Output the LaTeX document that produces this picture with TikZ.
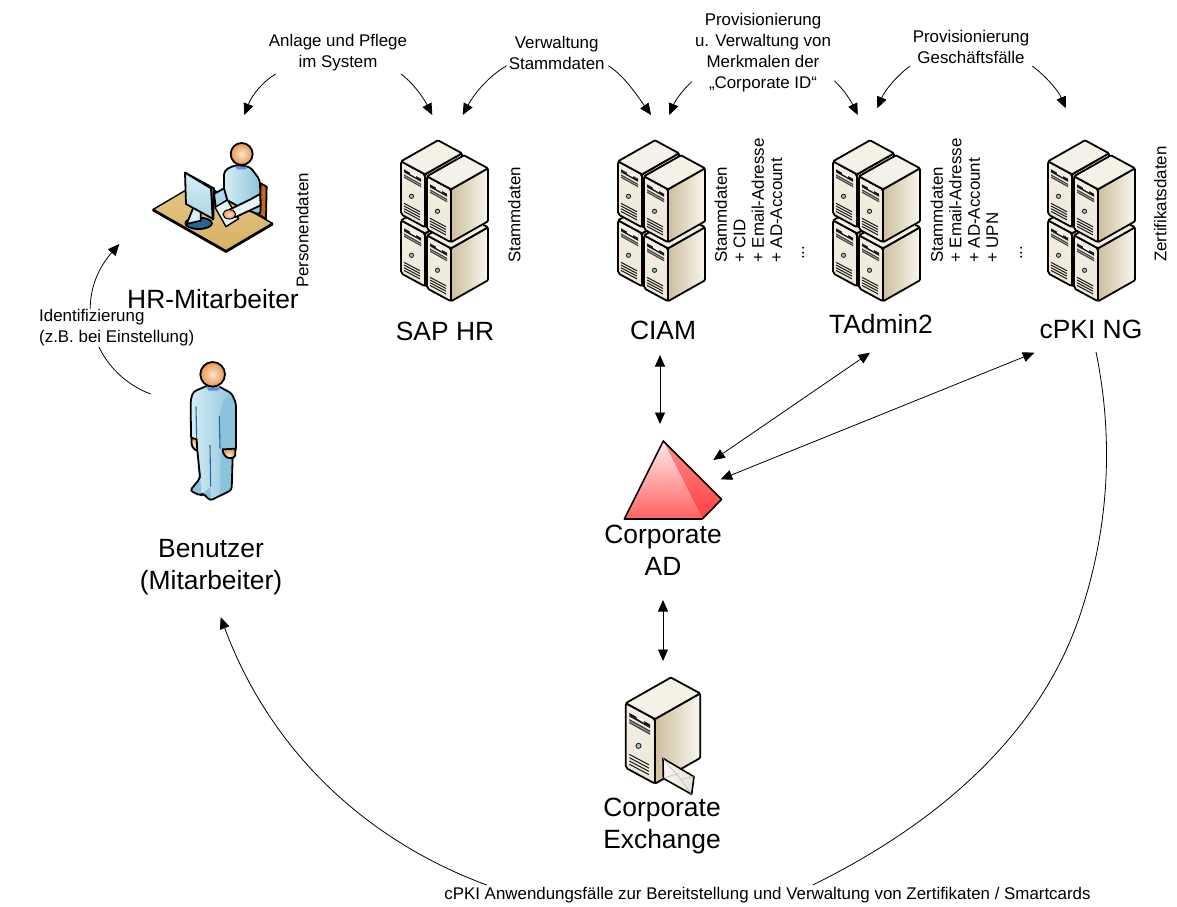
\documentclass[tikz,border=0pt]{standalone}
\usepackage{fontspec}
\setmainfont{Liberation Sans}
\usetikzlibrary{arrows.meta}
\definecolor{srvleft}{HTML}{F3EFE2}
\definecolor{srvtop}{HTML}{F4F1E7}
\definecolor{srvdark}{HTML}{CDBF9E}
\definecolor{srvlight}{HTML}{F8F6EE}
\definecolor{bluel}{HTML}{D6EEF5}
\definecolor{blued}{HTML}{8CC3DC}
\definecolor{bluex}{HTML}{2A6496}
\definecolor{skinl}{HTML}{FAE6D2}
\definecolor{skind}{HTML}{E8964C}
\definecolor{deskl}{HTML}{E4C988}
\definecolor{deskd}{HTML}{D8B062}
\definecolor{deske}{HTML}{C8641E}
\tikzset{
  smalltxt/.style={font=\fontsize{16.9}{21}\selectfont,align=center,inner sep=0pt},
  rottxt/.style={font=\fontsize{16.9}{18.4}\selectfont,align=left,rotate=90,inner sep=0pt,anchor=north west},
  bigtxt/.style={font=\fontsize{26.4}{32.5}\selectfont,align=center,inner sep=0pt},
  conn/.style={draw=black,line width=0.8pt},
  oneway/.style={conn,-{Triangle[length=11.5pt,width=10pt]}},
  twoway/.style={conn,{Triangle[length=11.5pt,width=10pt]}-{Triangle[length=11.5pt,width=10pt]}},
  outl/.style={draw=black,line width=1.8pt,line join=round},
}
% one server unit, (0,0) = front vertex of its top face
\newcommand{\srvunit}[3]{%
\begin{scope}[shift={(#1,#2)},scale=#3]
  \path[outl,left color=srvdark,right color=srvlight,rounded corners=1pt] (0,0) -- (37,-21) -- (37,32) -- (0,53) -- cycle;
  \path[outl,top color=srvleft,bottom color=srvleft!85!srvdark,rounded corners=2pt] (0,0) -- (0,53) -- (-24,40) -- (-24,-13) -- cycle;
  \path[outl,fill=srvtop,rounded corners=1pt] (0,0) -- (-24,-13) -- (13,-34) -- (37,-21) -- cycle;
  \fill[black!90] (-21,-5) -- (-4,4.5) -- (-4,7.5) -- (-21,-2) -- cycle;
  \fill[white] (-15,-2.5) -- (-9,1) -- (-9,3) -- (-15,-0.5) -- cycle;
  \fill[black!75] (-21,0) -- (-4,9.5) -- (-4,13) -- (-21,3.5) -- cycle;
  \fill[srvleft!70!black] (-21,1.4) -- (-4,10.9) -- (-4,11.7) -- (-21,2.2) -- cycle;
  \path[draw=black!85,line width=0.9pt,fill=teal!40] (-13.5,22) circle (2.1);
  \foreach \d in {0,2.7,5.4,8.1}
    \draw[black!90,line width=1pt] (-21,29+\d) -- (-5,37.5+\d);
\end{scope}}
\newcommand{\srvstack}[2]{%
  \srvunit{#1-26}{#2+44}{1}
  \srvunit{#1-26}{#2-15}{1}
  \srvunit{#1}{#2+59}{1}
  \srvunit{#1}{#2}{1}}
\begin{document}
\begin{tikzpicture}[x=1pt,y=-1pt]
\useasboundingbox (0,0) rectangle (1177,906);

% ---------- connector end points
\coordinate (a1s) at (275.7,74);  \coordinate (a1e) at (244.3,115);
\coordinate (a2s) at (401,74);    \coordinate (a2e) at (432.3,115);
\coordinate (a3s) at (506.7,65.7);\coordinate (a3e) at (462.7,115);
\coordinate (a4s) at (608.3,65.7);\coordinate (a4e) at (651,115);
\coordinate (a5s) at (691.7,81.7);\coordinate (a5e) at (669.3,115);
\coordinate (a6s) at (834.3,80.7);\coordinate (a6e) at (857.7,115);
\coordinate (a7s) at (910,66);    \coordinate (a7e) at (877.3,108.3);
\coordinate (a8s) at (1032.3,66); \coordinate (a8e) at (1065.7,108.3);
\coordinate (ciamS) at (660,355); \coordinate (adN) at (660,424);
\coordinate (taS) at (870,352.7); \coordinate (adNE) at (713.3,460);
\coordinate (pkiS) at (1034.3,352.7); \coordinate (adE) at (720.7,479.3);
\coordinate (adS) at (663,600);   \coordinate (exN) at (663,661);
\coordinate (benN) at (150.7,394);\coordinate (hrS) at (119.3,244);
\coordinate (pkiR) at (1096,352); \coordinate (mid1) at (1080,615); \coordinate (lblR) at (812.7,885);
\coordinate (lblL) at (486.7,885);\coordinate (benS) at (220.7,617.3);

% ---------- connectors
\draw[oneway] (a1s) .. controls (262.6,81.7) and (252,95) .. (a1e);
\draw[oneway] (a2s) .. controls (411.5,81.7) and (421.9,95) .. (a2e);
\draw[oneway] (a3s) .. controls (490.4,75) and (475.5,91.5) .. (a3e);
\draw[oneway] (a4s) .. controls (623,75) and (634.5,91.5) .. (a4e);
\draw[oneway] (a5s) .. controls (682.6,90) and (675,101) .. (a5e);
\draw[oneway] (a6s) .. controls (843.4,89) and (851,101) .. (a6e);
\draw[oneway] (a7s) .. controls (896.7,76) and (885,90) .. (a7e);
\draw[oneway] (a8s) .. controls (1045.4,76) and (1058,90) .. (a8e);
\draw[twoway] (ciamS) -- (adN);
\draw[twoway] (taS) -- (adNE);
\draw[twoway] (pkiS) -- (adE);
\draw[twoway] (adS) -- (exN);
\draw[oneway] (benN) .. controls (92,372) and (70,300) .. (hrS);
\draw[conn] (pkiR) .. controls (1112,430) and (1112,520) .. (mid1) .. controls (1050,705) and (975,805) .. (lblR);
\draw[oneway] (lblL) .. controls (365,840) and (270,750) .. (benS);

% ---------- servers
\srvstack{451}{189.3}
\srvstack{668}{189.3}
\srvstack{883}{189.3}
\srvstack{1098}{189.3}
\srvunit{655}{719}{1.22}
% envelope
\begin{scope}[shift={(610,680)},scale=0.3333]
  \path[draw=black,line width=1.6pt,line join=round,left color=srvlight,right color=srvdark!45!white] (159,235) -- (252,290) -- (245,343) -- (160,295) -- cycle;
  \draw[black!30,line width=0.5pt] (159,235) -- (212,298) -- (252,290) (160,295) -- (205,280) (245,343) -- (212,298);
\end{scope}

% ---------- pyramid
\begin{scope}[shift={(600,430)},scale=0.3333]
  \path[top color=red!45!white,bottom color=red!75!white] (190,33) -- (365,208) -- (307,267) -- cycle;
  \path[top color=red!8!white,bottom color=red!62!white] (190,33) -- (307,267) -- (73,267) -- cycle;
  \path[draw=black,line width=1.6pt,line join=round] (190,33) -- (365,208) -- (307,267) -- (73,267) -- cycle;
\end{scope}

% ---------- HR person at desk
\begin{scope}[shift={(140,120)},scale=0.3333]
  \path[outl,fill=deske] (362,190) -- (380,200) -- (378,297) -- (358,285) -- cycle;
  \path[outl,fill=deske] (40,268) -- (258,392) -- (397,310) -- (397,314) -- (258,396) -- (40,272) -- cycle;
  \path[top color=deskl,bottom color=deskd,draw=black,line width=1.4pt,line join=round] (40,268) -- (179,186) -- (397,310) -- (258,392) -- cycle;
  % body
  \path[outl,left color=bluel,right color=blued,rounded corners=4pt] (252,152) -- (285,135) -- (330,140) -- (360,180) -- (362,285) -- (300,262) -- (252,235) -- cycle;
  % far arm
  \path[outl,fill=blued!70!white] (222,222) -- (252,205) -- (262,240) -- (228,265) -- cycle;
  % keyboard
  \path[draw=black,line width=1.4pt,line join=round,fill=bluel!60!white] (225,262) -- (262,240) -- (296,296) -- (258,320) -- cycle;
  % near arm
  \path[outl,fill=bluel!60!white] (270,268) -- (332,238) -- (360,222) -- (362,256) -- (285,292) -- cycle;
  \path[draw=black,line width=1pt,shade,inner color=skinl,outer color=skind] (268,283) ellipse (19 and 14);
  \path[fill=blued!70!blue] (286,140) -- (322,140) -- (318,148) -- (292,148) -- cycle;
  \path[outl,shade,inner color=skinl,outer color=skind] (305,102) circle (33);
  % monitor
  \path[outl,fill=bluex] (176,310) ellipse (40 and 17);
  \path[outl,fill=bluel] (165,250) -- (183,244) -- (182,302) -- (140,312) -- cycle;
  \path[outl,fill=bluex] (135,158) -- (222,205) -- (220,298) -- (218,298) -- (212,205) -- cycle;
  \path[outl,top color=bluel,bottom color=blued!70!white] (135,158) -- (213,205) -- (218,296) -- (138,252) -- cycle;
\end{scope}

% ---------- standing person
\begin{scope}[shift={(160,350)},scale=0.3333]
  \path[left color=bluel,right color=blued,rounded corners=3pt] (140,108) -- (100,125) -- (92,150) -- (93,265) -- (112,300) -- (120,385) -- (90,422) -- (122,437) -- (130,430) -- (150,452) -- (215,420) -- (218,320) -- (228,300) -- (228,160) -- (215,130) -- (178,110) -- cycle;
  \path[fill=blued] (190,150) -- (215,130) -- (228,160) -- (228,298) -- (180,298) -- (178,198) -- cycle;
  \path[fill=blued] (182,298) -- (218,320) -- (215,420) -- (180,436) -- cycle;
  \path[fill=blued] (90,422) -- (120,385) -- (124,410) -- (122,437) -- cycle;
  \path[fill=blued] (130,430) -- (150,412) -- (155,452) -- cycle;
  \draw[bluex,line width=1.1pt] (108,170) -- (110,265);
  \draw[bluex,line width=1.1pt] (178,198) -- (180,295);
  \draw[bluex,line width=1.1pt] (150,285) -- (152,410);
  \draw[bluex,line width=1pt] (112,300) -- (122,385);
  \path[outl,rounded corners=3pt] (140,108) -- (100,125) -- (92,150) -- (93,265) -- (112,300) -- (120,385) -- (90,422) -- (122,437) -- (130,430) -- (150,452) -- (215,420) -- (218,320) -- (228,300) -- (228,160) -- (215,130) -- (178,110);
  \path[outl,shade,inner color=skinl,outer color=skind] (96,264) .. controls (90,285) and (100,300) .. (112,302) -- (110,268) -- cycle;
  \path[outl,shade,inner color=skinl,outer color=skind] (188,298) .. controls (188,322) and (215,335) .. (226,316) -- (226,296) -- cycle;
  \path[fill=blued!70!blue] (140,112) -- (178,112) -- (175,122) -- (145,122) -- cycle;
  \path[outl,shade,inner color=skinl,outer color=skind] (158,73) circle (37);
\end{scope}

% ---------- labels
\node[smalltxt] (lAnlage) at (338,52.5) {Anlage und Pflege\\im System};
\node[smalltxt] (lVerw) at (556.7,52.5) {Verwaltung\\Stammdaten};
\node[smalltxt] (lProv) at (763,53) {Provisionierung\\u. Verwaltung von\\Merkmalen der\\„Corporate ID“};
\node[smalltxt] (lGesch) at (971,46.5) {Provisionierung\\Geschäftsfälle};
\node[smalltxt,align=left,fill=white,anchor=west,inner ysep=1pt] (lIdent) at (39,328) {Identifizierung\\(z.B. bei Einstellung)};
\node[smalltxt] (lBottom) at (767.5,895) {cPKI Anwendungsfälle zur Bereitstellung und Verwaltung von Zertifikaten / Smartcards};

\node[rottxt] (rPers) at (296,288) {Personendaten};
\node[rottxt] (rSap) at (508,263) {Stammdaten};
\node[rottxt] (rCiam) at (714.5,263) {Stammdaten\\+ CID\\+ Email-Adresse\\+ AD-Account};
\node[rottxt] (rCiamDots) at (802,260) {...};
\node[rottxt] (rTa) at (930.5,263) {Stammdaten\\+ Email-Adresse\\+ AD-Account\\+ UPN};
\node[rottxt] (rTaDots) at (1020,260) {...};
\node[rottxt] (rPki) at (1154,262) {Zertifikatsdaten};

\node[bigtxt] (nHR) at (213,299) {HR-Mitarbeiter};
\node[bigtxt] (nSAP) at (445,331) {SAP HR};
\node[bigtxt] (nCIAM) at (663,330) {CIAM};
\node[bigtxt] (nTA) at (881,324) {TAdmin2};
\node[bigtxt] (nPKI) at (1091,329) {cPKI NG};
\node[bigtxt] (nBen) at (211,567) {Benutzer\\(Mitarbeiter)};
\node[bigtxt] (nAD) at (663,550.5) {Corporate\\AD};
\node[bigtxt] (nEx) at (662,826) {Corporate\\Exchange};
\end{tikzpicture}
\end{document}
